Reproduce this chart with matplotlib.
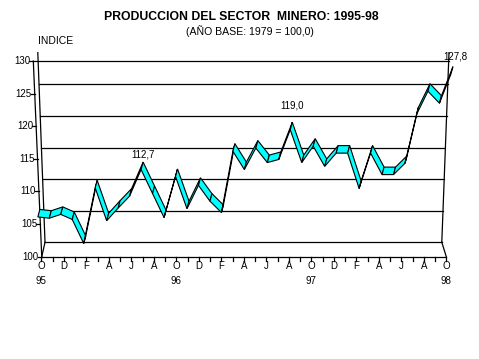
import matplotlib
matplotlib.use('Agg')
import matplotlib.pyplot as plt
from matplotlib.patches import Polygon

plt.rcParams['font.family'] = ['Liberation Sans', 'DejaVu Sans']

# Indice de produccion minera, mensual de oct-95 a oct-98
indice = [105.2, 105.0, 105.6, 104.8, 101.0, 109.8, 104.6, 106.6, 108.5, 112.7,
          108.9, 105.1, 111.6, 106.5, 110.2, 107.7, 105.9, 115.6, 112.7, 116.1,
          113.8, 114.3, 119.0, 113.8, 116.4, 113.2, 115.3, 115.3, 109.7, 115.3,
          111.9, 111.9, 113.7, 121.4, 125.1, 123.2, 127.8]
meses = ['O', 'D', 'F', 'A', 'J', 'A'] * 3 + ['O']
anios = ['95', '96', '97', '98']
etiquetas = {9: '112,7', 22: '119,0', 36: '127,8'}
niveles = [100, 105, 110, 115, 120, 125, 130]

fig = plt.figure(figsize=(4.79, 3.59), dpi=100)
ax = fig.add_axes([0, 0, 1, 1])
ax.set_xlim(-3.671, 38.907)
ax.set_ylim(84.31, 139.37)
ax.axis('off')

negro = dict(color='black', lw=0.9)


# "perspectiva": pared del fondo un poco mas arriba y mas chica
def pared(v):
    return 102.21 + 0.969 * (v - 100)


def borde(y, izq=True):
    t = (y - 102.21) / (131.3 - 102.21)
    if izq:
        return 0.33 + t * (-0.31 - 0.33)
    return 35.6 + t * (36.24 - 35.6)


# pared del fondo
for nv in niveles[:-1]:
    y = pared(nv)
    ax.plot([borde(y), borde(y, False)], [y, y], **negro)
ax.plot([borde(102.21), borde(131.3)], [102.21, 131.3], **negro)
ax.plot([borde(102.21, False), borde(131.3, False)], [102.21, 131.3], **negro)
ax.plot([-0.71, borde(130, False)], [130, 130], **negro)

# piso
ax.plot([0.04, 36], [100, 100], **negro)
ax.plot([0.04, 0.33], [100, 102.21], **negro)
ax.plot([36, 35.6], [100, 102.21], **negro)

# eje vertical inclinado
ax.plot([0.04, -0.71], [100, 130], **negro)
for nv in niveles:
    xe = 0.04 - 0.025 * (nv - 100)
    ax.plot([xe - 0.35, xe], [nv, nv], **negro)
    ax.text(xe - 0.28, nv, str(nv), ha='right', va='center', fontsize=7)

# eje horizontal
for i in range(len(indice)):
    ax.plot([i, i], [100, 99.4], **negro)
for i, m in enumerate(meses):
    ax.text(2 * i, 98.5, m, ha='center', va='center', fontsize=7)
for k, a in enumerate(anios):
    ax.text(12 * k, 96.3, a, ha='center', va='center', fontsize=7)

# cinta 3D (borde de atras = valor, borde de adelante abajo-izquierda)
xs = [-0.13 + 1.02 * i for i in range(len(indice))]
ys = [pared(v) for v in indice]
dx, dy = -0.18, -1.15
for i in range(len(indice) - 1):
    pts = [(xs[i], ys[i]), (xs[i + 1], ys[i + 1]),
           (xs[i + 1] + dx, ys[i + 1] + dy), (xs[i] + dx, ys[i] + dy)]
    ax.add_patch(Polygon(pts, closed=True, facecolor='#00ffff',
                         edgecolor='black', lw=0.8, zorder=3))

desplaz = {9: (0, 2), 22: (0, 8.5), 36: (1.5, 4)}
for i, txt in etiquetas.items():
    ax.annotate(txt, (xs[i], ys[i]), xytext=desplaz[i], textcoords='offset points',
                ha='center', va='bottom', fontsize=7)

fig.text(0.503, 0.953, 'PRODUCCION DEL SECTOR  MINERO: 1995-98',
         ha='center', va='center', fontsize=8.8, fontweight='bold')
fig.text(0.522, 0.914, '(AÑO BASE: 1979 = 100,0)', ha='center', va='center',
         fontsize=7.6)
fig.text(0.117, 0.886, 'INDICE', ha='center', va='center', fontsize=7.5)

fig.savefig('out.png', dpi=100)
